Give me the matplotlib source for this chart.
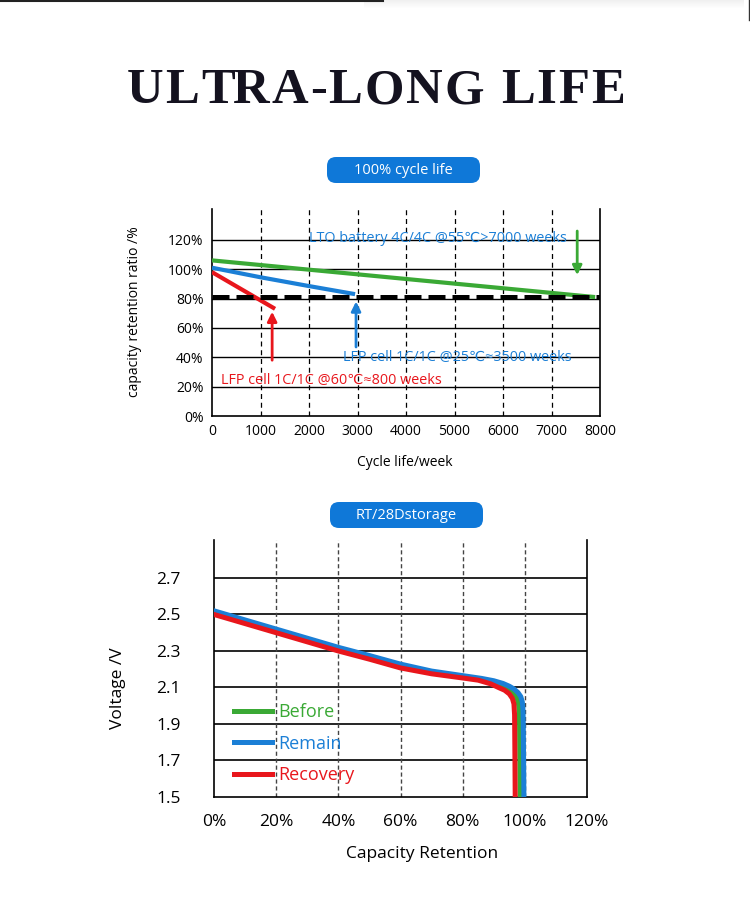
import matplotlib.pyplot as plt
from matplotlib.patches import FancyBboxPatch, Rectangle

plt.rcParams['font.family'] = ['Open Sans', 'DejaVu Sans']

# --- cycle life chart (top) ---
cycle_xticks = [0, 1000, 2000, 3000, 4000, 5000, 6000, 7000, 8000]
cycle_yticks = [0, 20, 40, 60, 80, 100, 120]
cycle_ylabels = ['0%', '20%', '40%', '60%', '80%', '100%', '120%']

lto_week = [0, 7900]
lto_ratio = [106, 81]
lfp25_week = [0, 1000, 2000, 2950]
lfp25_ratio = [101, 94.5, 88.5, 83]
lfp60_week = [0, 1300]
lfp60_ratio = [98, 73]
limit_week = [0, 8000]
limit_ratio = [81, 81]

# --- storage chart (bottom) ---
cap_xticks = [0, 20, 40, 60, 80, 100, 120]
cap_xlabels = ['0%', '20%', '40%', '60%', '80%', '100%', '120%']
volt_yticks = [1.5, 1.7, 1.9, 2.1, 2.3, 2.5, 2.7]

remain_cap = [0, 10, 20, 30, 40, 50, 60, 70, 80, 86, 90, 93, 95, 96.5, 97.8, 98.7, 99.2, 99.4, 99.5, 99.6, 99.7]
remain_volt = [2.52, 2.47, 2.42, 2.37, 2.32, 2.275, 2.228, 2.19, 2.165, 2.15, 2.137, 2.122, 2.107, 2.092, 2.072, 2.05, 2.02, 1.98, 1.9, 1.7, 1.51]
before_cap = [0, 10, 20, 30, 40, 50, 60, 70, 80, 88, 92, 94.5, 96.2, 97.3, 97.9, 98.2, 98.3, 98.4, 98.5]
before_volt = [2.51, 2.46, 2.41, 2.36, 2.31, 2.265, 2.218, 2.182, 2.16, 2.135, 2.115, 2.095, 2.075, 2.05, 2.02, 1.97, 1.9, 1.7, 1.51]
recovery_cap = [0, 10, 20, 30, 40, 50, 60, 70, 80, 85, 89, 91.5, 93.5, 95, 96, 96.5, 96.7, 96.8, 96.9]
recovery_volt = [2.50, 2.45, 2.40, 2.35, 2.30, 2.255, 2.207, 2.175, 2.152, 2.14, 2.12, 2.10, 2.085, 2.065, 2.04, 2.01, 1.95, 1.75, 1.51]

GREEN = '#3aa935'
BLUE = '#1b7fd6'
RED = '#e8161c'
BTN = '#0f78d8'

fig = plt.figure(figsize=(7.5, 9.05), dpi=100)

# overlay in pixel units for decorations and labels
ov = fig.add_axes([0, 0, 1, 1])
ov.set_xlim(0, 750)
ov.set_ylim(905, 0)
ov.axis('off')
ov.plot([0, 383], [0.8, 0.8], color='#222222', lw=1.5)
for i in range(8):
    ov.add_patch(Rectangle((364, i), 380, 1, color='#888888', alpha=0.12 * (8 - i) / 8, lw=0))
ov.plot([749, 749], [0, 20], color='#333333', lw=1)

# title with wide letter spacing
title = 'ULTRA-LONG LIFE'
title_kw = dict(family='Liberation Serif', weight='bold', fontsize=36.5, color='#14121f', va='center')
renderer = fig.canvas.get_renderer()
probe = ov.text(0, 0, title + '|', **title_kw)
bar = ov.text(0, 0, '|', **title_kw)
full_w = probe.get_window_extent(renderer).width - bar.get_window_extent(renderer).width
track = (498 - full_w) / (len(title) - 1)
offsets = []
for i in range(len(title)):
    probe.set_text(title[:i] + '|')
    offsets.append(probe.get_window_extent(renderer).width - bar.get_window_extent(renderer).width)
probe.remove()
bar.remove()
for i, ch in enumerate(title):
    ov.text(127 + offsets[i] + i * track, 91, ch, ha='left', **title_kw)

for (x, y, w, h, label) in [(327, 157, 153, 26, '100% cycle life'),
                            (330, 502, 153, 26, 'RT/28Dstorage')]:
    ov.add_patch(FancyBboxPatch((x, y), w, h, boxstyle='round,pad=0,rounding_size=9',
                                fc=BTN, ec='none'))
    ov.text(x + w / 2, y + h / 2, label, color='white', fontsize=10.5, ha='center', va='center')

ov.text(135, 312, 'capacity retention ratio /%', rotation=90, fontsize=10, ha='center', va='center')
ov.text(405, 462, 'Cycle life/week', fontsize=10, ha='center', va='center')
ov.text(118, 688, 'Voltage /V', rotation=90, fontsize=12.5, ha='center', va='center')
ov.text(422, 854, 'Capacity Retention', fontsize=12.5, ha='center', va='center')

# ---- top chart ----
ax1 = fig.add_axes([212 / 750, 1 - 416 / 905, 388 / 750, 207 / 905])
ax1.set_xlim(0, 8000)
ax1.set_ylim(0, 141)
for y in cycle_yticks[1:]:
    ax1.axhline(y, color='black', lw=1, zorder=1)
for x in cycle_xticks[1:-1]:
    ax1.axvline(x, color='black', lw=0.9, ls=(0, (4, 3)), zorder=1)
ax1.spines['top'].set_visible(False)
for s in ['left', 'right', 'bottom']:
    ax1.spines[s].set_linewidth(1.2)
ax1.set_xticks(cycle_xticks)
ax1.set_yticks(cycle_yticks)
ax1.set_yticklabels(cycle_ylabels)
ax1.tick_params(length=0, labelsize=10, pad=6)

ax1.plot(lto_week, lto_ratio, color=GREEN, lw=3, solid_capstyle='butt', zorder=3)
ax1.plot(lfp25_week, lfp25_ratio, color=BLUE, lw=3, solid_capstyle='butt', zorder=3)
ax1.plot(lfp60_week, lfp60_ratio, color=RED, lw=3, solid_capstyle='butt', zorder=3)
ax1.plot(limit_week, limit_ratio, color='black', lw=3.6, dashes=(3.4, 1.4), zorder=4)

arrow = dict(arrowstyle='-|>', lw=2, mutation_scale=14, shrinkA=0, shrinkB=0)
ax1.annotate('', xy=(7530, 96), xytext=(7530, 126), arrowprops=dict(arrow, color=GREEN))
ax1.annotate('', xy=(2970, 78), xytext=(2970, 47), arrowprops=dict(arrow, color=BLUE))
ax1.annotate('', xy=(1240, 71), xytext=(1240, 38), arrowprops=dict(arrow, color=RED))

ax1.text(2000, 121, 'LTO battery 4C/4C @55\u2103>7000 weeks', color=BLUE, fontsize=10.4, va='center')
ax1.text(2700, 40, 'LFP cell 1C/1C @25\u2103\u22483500 weeks', color=BLUE, fontsize=10.4, va='center')
ax1.text(180, 24.5, 'LFP cell 1C/1C @60\u2103\u2248800 weeks', color=RED, fontsize=10.4, va='center')

# ---- bottom chart ----
ax2 = fig.add_axes([214 / 750, 1 - 797 / 905, 373 / 750, 257 / 905])
ax2.set_xlim(0, 120)
ax2.set_ylim(1.5, 2.908)
for y in volt_yticks[1:]:
    ax2.axhline(y, color='black', lw=1.2, zorder=1)
for x in cap_xticks[1:-1]:
    ax2.axvline(x, color='#444444', lw=1, ls=(0, (3, 2)), zorder=1)
ax2.spines['top'].set_visible(False)
for s in ['left', 'right', 'bottom']:
    ax2.spines[s].set_linewidth(1.2)
ax2.set_xticks(cap_xticks)
ax2.set_xticklabels(cap_xlabels)
ax2.set_yticks(volt_yticks)
ax2.set_yticklabels([f'{v:.1f}' for v in volt_yticks])
ax2.tick_params(length=0, labelsize=12.5)
ax2.tick_params(axis='x', pad=12)
ax2.tick_params(axis='y', pad=24)

l_before, = ax2.plot(before_cap, before_volt, color=GREEN, lw=3.6, label='Before', zorder=3)
l_remain, = ax2.plot(remain_cap, remain_volt, color=BLUE, lw=3.6, label='Remain', zorder=3)
l_recov, = ax2.plot(recovery_cap, recovery_volt, color=RED, lw=3.6, label='Recovery', zorder=3)
ax2.legend(handles=[l_before, l_remain, l_recov], loc='lower left', bbox_to_anchor=(0.054, 0.05),
           frameon=False, fontsize=13, handlelength=2.1, handletextpad=0.35,
           labelspacing=0.75, borderpad=0, borderaxespad=0, labelcolor='linecolor')

fig.savefig('out.png', dpi=100)
